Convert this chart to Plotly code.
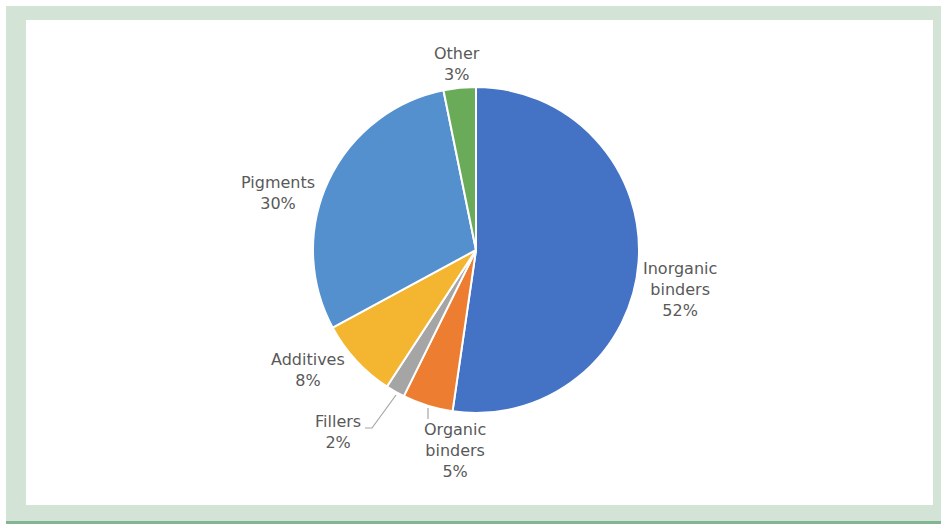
import plotly.graph_objects as go

W, H = 941, 524

labels = ["Inorganic binders", "Organic binders", "Fillers", "Additives", "Pigments", "Other"]
label_lines = ["Inorganic<br>binders", "Organic<br>binders", "Fillers", "Additives", "Pigments", "Other"]
values = [52.3, 5.0, 1.9, 7.9, 29.7, 3.2]
shown_pct = [52, 5, 2, 8, 30, 3]
colors = ["#4472C4", "#ED7D31", "#A5A5A5", "#F4B530", "#5390CD", "#6AAB5A"]

# label anchor positions (pixels, centre of text block)
label_pos = [(680, 289), (455, 450), (338, 432), (308, 370), (278, 193), (457, 64)]


def px(x):
    return x / W


def py(y):
    return 1 - y / H


cx, cy, r = 476, 250, 163

fig = go.Figure(
    go.Pie(
        labels=labels,
        values=values,
        sort=False,
        direction="clockwise",
        rotation=0,
        marker=dict(colors=colors, line=dict(color="white", width=2)),
        textinfo="none",
        hoverinfo="label+percent",
        showlegend=False,
        domain=dict(x=[px(cx - r), px(cx + r)], y=[py(cy + r), py(cy - r)]),
    )
)

shapes = [
    dict(type="rect", xref="paper", yref="paper", x0=px(6), x1=1, y0=py(524), y1=py(6),
         fillcolor="#D3E4D7", line=dict(width=0), layer="below"),
    dict(type="rect", xref="paper", yref="paper", x0=px(6), x1=1, y0=py(524), y1=py(521),
         fillcolor="#82B592", line=dict(width=0), layer="below"),
    dict(type="rect", xref="paper", yref="paper", x0=px(26), x1=px(933), y0=py(505), y1=py(20),
         fillcolor="white", line=dict(width=0), layer="below"),
    # leader lines
    dict(type="path", xref="paper", yref="paper",
         path=f"M {px(365)},{py(428)} L {px(372)},{py(428)} L {px(396)},{py(395)}",
         line=dict(color="#A6A6A6", width=1.2)),
    dict(type="line", xref="paper", yref="paper", x0=px(428), x1=px(428), y0=py(408), y1=py(419),
         line=dict(color="#A6A6A6", width=1.2)),
]

annotations = []
for txt, pct, (ax, ay) in zip(label_lines, shown_pct, label_pos):
    annotations.append(dict(
        x=px(ax), y=py(ay), xref="paper", yref="paper",
        text=f"{txt}<br>{pct}%", showarrow=False,
        xanchor="center", yanchor="middle", align="center",
        font=dict(family="DejaVu Sans", size=16, color="#595959"),
    ))

fig.update_layout(
    width=W, height=H,
    margin=dict(l=0, r=0, t=0, b=0),
    paper_bgcolor="white",
    plot_bgcolor="white",
    shapes=shapes,
    annotations=annotations,
)

fig.write_html("out.html", config={"displayModeBar": False},
               post_script="document.body.style.margin='0';")
